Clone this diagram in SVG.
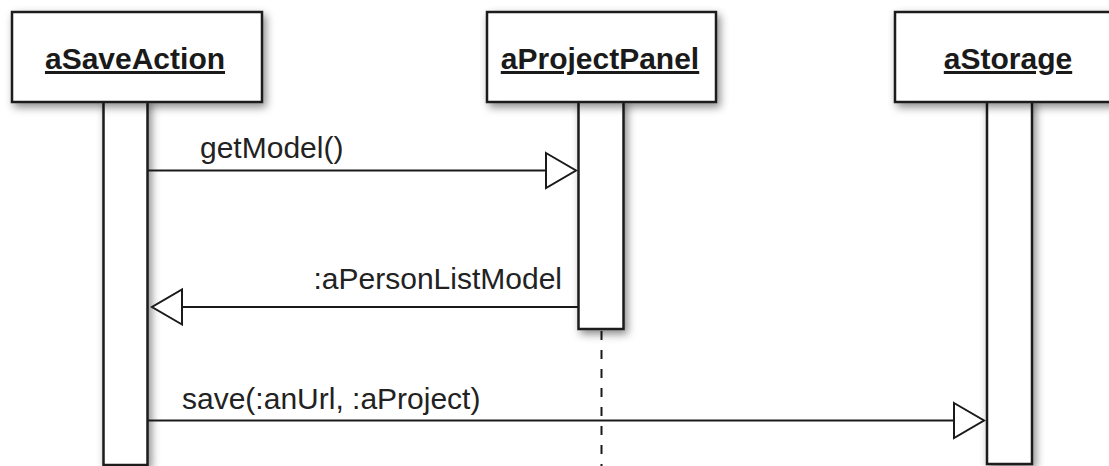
<svg xmlns="http://www.w3.org/2000/svg" width="1109" height="466" viewBox="0 0 1109 466">
<style>
.box{fill:#fff;stroke:#1a1a1a;stroke-width:2.5;filter:url(#sh)}
.bar{fill:#fff;stroke:#1a1a1a;stroke-width:2.5;filter:url(#sh)}
.title{font-family:"Liberation Sans",Arial,sans-serif;font-size:30px;font-weight:bold;fill:#1a1a1a;text-anchor:middle;text-decoration:underline}
.msg{font-family:"Liberation Sans",Arial,sans-serif;font-size:30px;fill:#222}
.line{stroke:#1a1a1a;stroke-width:2;fill:none;marker-end:url(#open)}
.life{stroke:#1a1a1a;stroke-width:2;stroke-dasharray:9 10;fill:none}
</style>
<defs>
<filter id="sh" x="-30%" y="-30%" width="160%" height="160%">
<feDropShadow dx="3" dy="4" stdDeviation="4" flood-color="#000" flood-opacity="0.45"/>
</filter>
<marker id="open" markerUnits="userSpaceOnUse" markerWidth="34" markerHeight="40" viewBox="-2 -2 34 40" refX="30" refY="17.5" orient="auto">
<path d="M0,0 L30,17.5 L0,35 Z" fill="#fff" stroke="#1a1a1a" stroke-width="2"/>
</marker>
</defs>
<rect width="1109" height="466" fill="#fff"/>
<g id="aSaveAction">
<rect class="bar" x="103.5" y="100" width="44" height="365"/>
<rect class="box" x="12" y="12" width="250" height="90"/>
<text class="title" x="135" y="69">aSaveAction</text>
</g>
<g id="aProjectPanel">
<line class="life" x1="601.5" y1="331" x2="601.5" y2="466"/>
<rect class="bar" x="578.5" y="100" width="45" height="229"/>
<rect class="box" x="487" y="12" width="229" height="90"/>
<text class="title" x="600" y="69">aProjectPanel</text>
</g>
<g id="aStorage">
<rect class="bar" x="987" y="100" width="45" height="364"/>
<rect class="box" x="895" y="12" width="240" height="90"/>
<text class="title" x="1008" y="69">aStorage</text>
</g>
<g id="connectors">
<line class="line" x1="148" y1="170.5" x2="576" y2="170.5"/>
<text class="msg" x="200" y="158">getModel()</text>
<line class="line" x1="578" y1="307" x2="152" y2="307"/>
<text class="msg" x="562" y="289" text-anchor="end">:aPersonListModel</text>
<line class="line" x1="148" y1="420.5" x2="984" y2="420.5"/>
<text class="msg" x="182" y="409">save(:anUrl, :aProject)</text>
</g>
</svg>
